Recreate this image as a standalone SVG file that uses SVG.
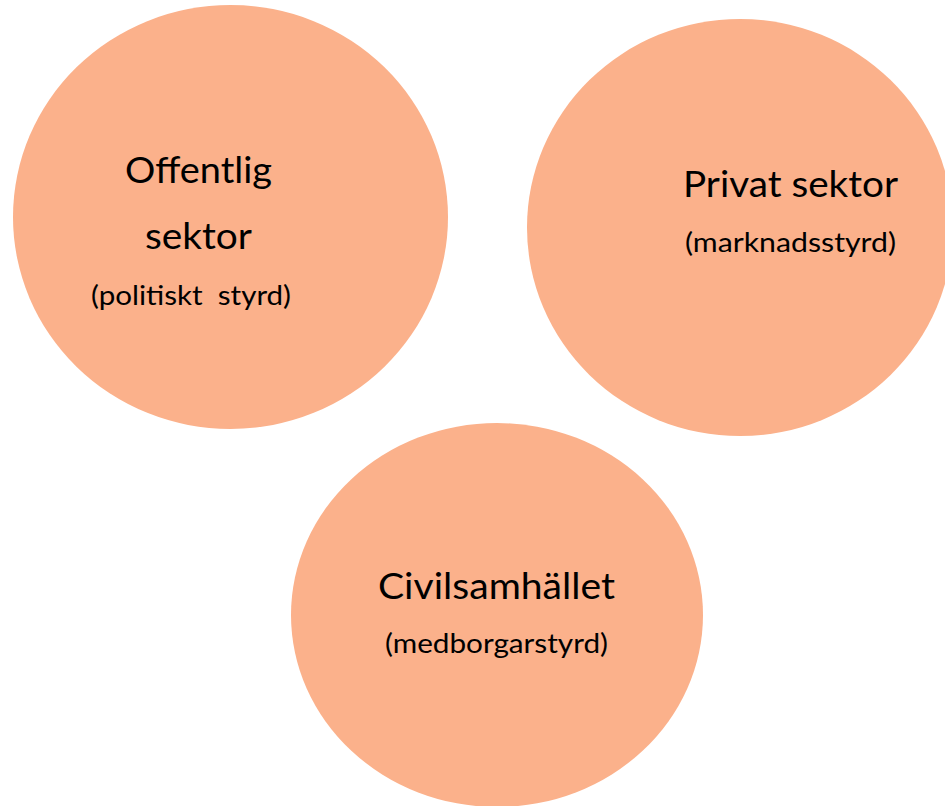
<svg xmlns="http://www.w3.org/2000/svg" width="945" height="806" viewBox="0 0 945 806">
<style>
.c{fill:#FBB18B}
.t{font-family:Lato,"Open Sans","Liberation Sans",sans-serif;fill:#000;text-anchor:middle}
.big{font-size:36px}
.small{font-size:26px}
</style>
<rect width="945" height="806" fill="#fff"/>
<g id="offentlig">
<ellipse class="c" cx="230.5" cy="217" rx="217.5" ry="212"/>
<text class="t big" x="198.5" y="183" textLength="147" lengthAdjust="spacingAndGlyphs">Offentlig</text>
<text class="t big" x="198.5" y="249" textLength="107" lengthAdjust="spacingAndGlyphs">sektor</text>
<text class="t small" x="191" y="305" textLength="200" lengthAdjust="spacingAndGlyphs" xml:space="preserve">(politiskt  styrd)</text>
</g>
<g id="privat">
<ellipse class="c" cx="740" cy="227.5" rx="213" ry="208.5"/>
<text class="t big" x="790.5" y="197" textLength="215" lengthAdjust="spacingAndGlyphs">Privat sektor</text>
<text class="t small" x="790.5" y="252" textLength="211" lengthAdjust="spacingAndGlyphs">(marknadsstyrd)</text>
</g>
<g id="civil">
<ellipse class="c" cx="497" cy="615" rx="206" ry="192"/>
<text class="t big" x="496.5" y="599" textLength="237" lengthAdjust="spacingAndGlyphs">Civilsamhället</text>
<text class="t small" x="496.5" y="653" textLength="223" lengthAdjust="spacingAndGlyphs">(medborgarstyrd)</text>
</g>
<g id="connectors"/>
</svg>
